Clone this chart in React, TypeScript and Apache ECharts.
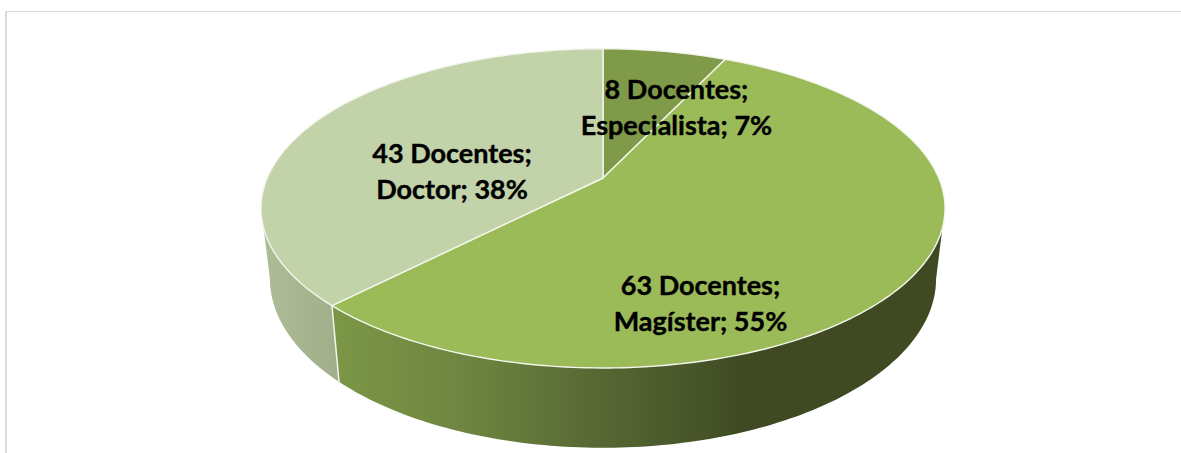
import React, { useEffect, useRef } from "react";
import * as echarts from "echarts";

const categories = ["Especialista", "Magíster", "Doctor"];
const docentes = [8, 63, 43];
const percentLabels = [7, 55, 38];
const unitLabel = "Docentes";

const topColors = ["#7F9A48", "#9BBB59", "#C3D3A9"];
const labelCenters = [[676.5, 106.5], [700.5, 302.5], [452, 170.5]];

const total = docentes.reduce((a, b) => a + b, 0);

// projective view of the pie disc: the circle's centre maps to the apex, above the ellipse's centre
const CX = 603;
const C = -0.19;
const TOP = { A: 335.8, a: 120.05, b: 178 };
const BASE = { A: 327, a: 116, b: 246.7 };
const SIL_TOP = 107.8;
const SIL_BASE = 101;

function project(p: { A: number; a: number; b: number }, deg: number) {
  const r = (deg * Math.PI) / 180;
  const u = Math.sin(r);
  const v = -Math.cos(r);
  const d = 1 + C * v;
  return [CX + (p.A * u) / d, (p.a * v + p.b) / d];
}

function arc(p: { A: number; a: number; b: number }, from: number, to: number) {
  const n = Math.max(2, Math.ceil(Math.abs(to - from)));
  const pts: number[][] = [];
  for (let i = 0; i <= n; i++) pts.push(project(p, from + ((to - from) * i) / n));
  return pts;
}

function globalGradient(x: number, x2: number, stops: [number, string][]) {
  return {
    type: "linear",
    x,
    y: 0,
    x2,
    y2: 0,
    global: true,
    colorStops: stops.map(([offset, color]) => ({ offset, color })),
  };
}

const magisterWall = globalGradient(339, 745, [
  [0, "#7B9646"],
  [0.3, "#6E8640"],
  [0.65, "#566733"],
  [1, "#3F4A22"],
]);
const doctorWall = globalGradient(262, 339, [
  [0, "#AEBC98"],
  [1, "#A0AF8A"],
]);

function sliceShapes(params: any, api: any) {
  const i = params.dataIndex;
  const value = api.value(0);
  let start = 0;
  for (let k = 0; k < i; k++) start += (docentes[k] / total) * 360;
  const end = start + (value / total) * 360;
  const children: any[] = [];

  // visible side walls: from the rim's silhouette round to the slice boundary
  if (i === 1) {
    const top = arc(TOP, SIL_TOP, end);
    const base = arc(BASE, end, SIL_BASE);
    children.push({ type: "polygon", shape: { points: top.concat(base) }, style: { fill: magisterWall }, silent: true });
  }
  if (i === 2) {
    const top = arc(TOP, start, 360 - SIL_TOP);
    const base = arc(BASE, 360 - SIL_BASE, start);
    children.push({ type: "polygon", shape: { points: top.concat(base) }, style: { fill: doctorWall }, silent: true });
    const p = project(TOP, start);
    const q = project(BASE, start);
    children.push({
      type: "line",
      shape: { x1: p[0], y1: p[1], x2: q[0], y2: q[1] },
      style: { stroke: "#F2F4EC", lineWidth: 1.5 },
      silent: true,
    });
  }

  // top face
  const apex = [CX, TOP.b];
  children.push({
    type: "polygon",
    shape: { points: [apex].concat(arc(TOP, start, end)) },
    style: { fill: topColors[i], stroke: "#F4F6EE", lineWidth: 1.4, lineJoin: "round" },
    silent: true,
  });
  return { type: "group", children };
}

function sliceLabel(params: any, api: any) {
  const i = params.dataIndex;
  const value = api.value(0);
  return {
    type: "text",
    x: labelCenters[i][0],
    y: labelCenters[i][1],
    style: {
      text: `${value} ${unitLabel};\n${categories[i]}; ${percentLabels[i]}%`,
      fontFamily: "Lato",
      fontWeight: "bold",
      fontSize: 27,
      lineHeight: 36,
      fill: "#000000",
      stroke: "#000000",
      lineWidth: 0.4,
      align: "center",
      verticalAlign: "middle",
    },
    silent: true,
  };
}

export default function App() {
  const ref = useRef<HTMLDivElement>(null);
  useEffect(() => {
    document.body.style.margin = "0";
    const chart = echarts.init(ref.current!, undefined, { renderer: "svg" });
    chart.setOption({
      animation: false,
      backgroundColor: "#FFFFFF",
      graphic: [
        { type: "rect", shape: { x: 5, y: 11, width: 1176, height: 1 }, style: { fill: "#D9D9D9" }, silent: true },
        { type: "rect", shape: { x: 5, y: 11, width: 2, height: 442 }, style: { fill: "#D9D9D9" }, silent: true },
      ],
      series: [
        {
          type: "custom",
          coordinateSystem: "none",
          renderItem: sliceShapes,
          data: docentes.map((v) => [v]),
          encode: { value: 0 },
          z: 2,
        },
        {
          type: "custom",
          coordinateSystem: "none",
          renderItem: sliceLabel,
          data: docentes.map((v) => [v]),
          encode: { value: 0 },
          z: 3,
        },
      ],
    });
    return () => chart.dispose();
  }, []);
  return <div ref={ref} style={{ width: 1181, height: 453 }} />;
}
